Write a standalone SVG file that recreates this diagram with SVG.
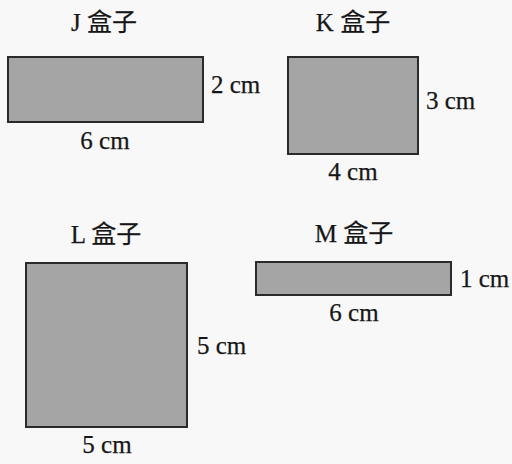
<svg xmlns="http://www.w3.org/2000/svg" width="512" height="464" viewBox="0 0 512 464">
<style>
.box{fill:#a5a5a5;stroke:#2a2a2a;stroke-width:2}
.t{font-family:'Liberation Serif','Noto Sans CJK SC',serif;font-size:25px;fill:#161616;stroke:#161616;stroke-width:0.25}
.m{text-anchor:middle}
</style>
<rect width="512" height="464" fill="#f8f8f8"/>
<g id="box-J" font-family="Liberation Serif, Noto Sans CJK SC, serif">
<rect class="box" x="8" y="57" width="195" height="65"/>
<text class="t m" x="104" y="31">J 盒子</text>
<text class="t" x="211" y="93">2 cm</text>
<text class="t m" x="105" y="149">6 cm</text>
</g>
<g id="box-K" font-family="Liberation Serif, Noto Sans CJK SC, serif">
<rect class="box" x="288" y="57" width="130" height="97"/>
<text class="t m" x="353" y="31">K 盒子</text>
<text class="t" x="426" y="109">3 cm</text>
<text class="t m" x="353" y="180">4 cm</text>
</g>
<g id="box-L" font-family="Liberation Serif, Noto Sans CJK SC, serif">
<rect class="box" x="26" y="263" width="161" height="164"/>
<text class="t m" x="106" y="243">L 盒子</text>
<text class="t" x="197" y="354">5 cm</text>
<text class="t m" x="107" y="453">5 cm</text>
</g>
<g id="box-M" font-family="Liberation Serif, Noto Sans CJK SC, serif">
<rect class="box" x="256" y="262" width="195" height="33"/>
<text class="t m" x="354" y="242">M 盒子</text>
<text class="t" x="460" y="287">1 cm</text>
<text class="t m" x="354" y="321">6 cm</text>
</g>
<g id="connectors"/>
</svg>
